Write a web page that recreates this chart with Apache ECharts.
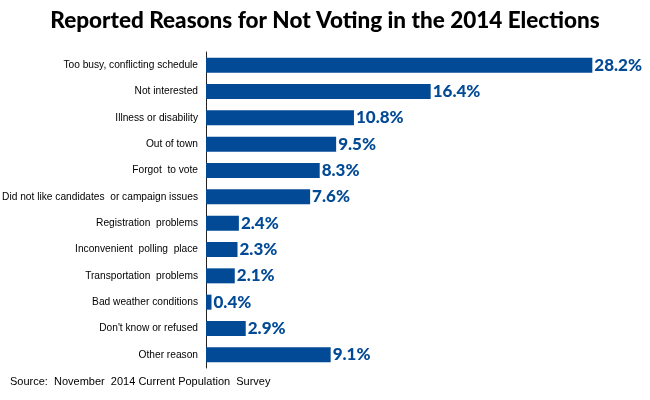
<!DOCTYPE html>
<html><head><meta charset="utf-8">
<script src="https://cdn.jsdelivr.net/npm/echarts@6/dist/echarts.min.js"></script>
<style>html,body{margin:0;padding:0;background:#fff}#c{width:650px;height:400px}</style>
</head><body><div id="c"></div>
<script>
const categories = [
  "Too busy, conflicting schedule",
  "Not interested",
  "Illness or disability",
  "Out of town",
  "Forgot  to vote",
  "Did not like candidates  or campaign issues",
  "Registration  problems",
  "Inconvenient  polling  place",
  "Transportation  problems",
  "Bad weather conditions",
  "Don't know or refused",
  "Other reason"
];
const values = [28.2, 16.4, 10.8, 9.5, 8.3, 7.6, 2.4, 2.3, 2.1, 0.4, 2.9, 9.1];
const titleText = "Reported Reasons for Not Voting in the 2014 Elections";
const sourceText = "Source:  November  2014 Current Population  Survey";

const chart = echarts.init(document.getElementById('c'), null, {renderer:'canvas'});
chart.setOption({
  animation: false,
  backgroundColor: '#fff',
  title: [{
    text: titleText, left: 'center', top: 9, padding: 0,
    textStyle: {fontFamily: 'Lato', fontWeight: 900, fontSize: 22.5, color: '#000'}
  }, {
    text: sourceText, left: 10, top: 376, padding: 0,
    textStyle: {fontFamily: 'Liberation Sans, sans-serif', fontWeight: 'normal', fontSize: 11, color: '#000'}
  }],
  grid: {left: 206, top: 52, width: 411, height: 316, containLabel: false, outerBoundsMode: 'none'},
  xAxis: {type: 'value', min: 0, max: 30, show: false},
  yAxis: {
    type: 'category', data: categories, inverse: true,
    axisLine: {show: true, lineStyle: {color: '#222', width: 1}},
    axisTick: {show: false},
    axisLabel: {fontFamily: 'Liberation Sans, sans-serif', fontSize: 10.2, color: '#000', margin: 8}
  },
  series: [{
    type: 'bar', data: values, barWidth: 15,
    itemStyle: {color: '#034a96'},
    label: {show: true, position: 'right', distance: 2, formatter: p => p.value.toFixed(1) + '%',
      fontFamily: 'Lato', fontWeight: 900, fontSize: 17, color: '#034a96'}
  }]
});
</script></body></html>
